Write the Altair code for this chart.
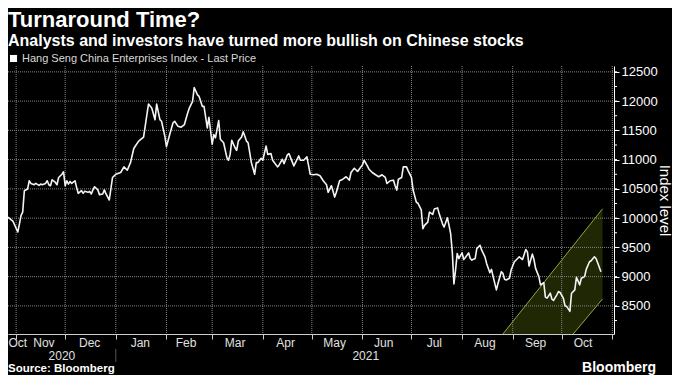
import altair as alt
import pandas as pd

# ---------------- data ----------------
dates = [
    "2020-10-27", "2020-10-29", "2020-10-30", "2020-11-02", "2020-11-03", "2020-11-04", "2020-11-05",
    "2020-11-06", "2020-11-08", "2020-11-09", "2020-11-10", "2020-11-12", "2020-11-13", "2020-11-15",
    "2020-11-16", "2020-11-17", "2020-11-19", "2020-11-20", "2020-11-21", "2020-11-22", "2020-11-23",
    "2020-11-25", "2020-11-26", "2020-11-27", "2020-11-29", "2020-11-30", "2020-12-01", "2020-12-02",
    "2020-12-03", "2020-12-04", "2020-12-05", "2020-12-07", "2020-12-08", "2020-12-09", "2020-12-11",
    "2020-12-12", "2020-12-13", "2020-12-15", "2020-12-16", "2020-12-17", "2020-12-18", "2020-12-19",
    "2020-12-21", "2020-12-22", "2020-12-24", "2020-12-25", "2020-12-26", "2020-12-28", "2020-12-30",
    "2021-01-01", "2021-01-04", "2021-01-06", "2021-01-08", "2021-01-10", "2021-01-12", "2021-01-13",
    "2021-01-15", "2021-01-18", "2021-01-19", "2021-01-21", "2021-01-23", "2021-01-25", "2021-01-26",
    "2021-01-28", "2021-01-29", "2021-01-31", "2021-02-01", "2021-02-03", "2021-02-05", "2021-02-06",
    "2021-02-08", "2021-02-10", "2021-02-12", "2021-02-14", "2021-02-15", "2021-02-17", "2021-02-18",
    "2021-02-20", "2021-02-21", "2021-02-23", "2021-02-24", "2021-02-26", "2021-02-27", "2021-03-01",
    "2021-03-02", "2021-03-03", "2021-03-05", "2021-03-06", "2021-03-08", "2021-03-10", "2021-03-11",
    "2021-03-12", "2021-03-13", "2021-03-15", "2021-03-16", "2021-03-17", "2021-03-19", "2021-03-20",
    "2021-03-22", "2021-03-23", "2021-03-25", "2021-03-27", "2021-03-28", "2021-03-29", "2021-03-31",
    "2021-04-01", "2021-04-03", "2021-04-04", "2021-04-06", "2021-04-07", "2021-04-10", "2021-04-11",
    "2021-04-13", "2021-04-14", "2021-04-16", "2021-04-17", "2021-04-20", "2021-04-21", "2021-04-23",
    "2021-04-24", "2021-04-26", "2021-04-28", "2021-04-30", "2021-05-02", "2021-05-04", "2021-05-06",
    "2021-05-08", "2021-05-10", "2021-05-11", "2021-05-13", "2021-05-15", "2021-05-16", "2021-05-18",
    "2021-05-20", "2021-05-22", "2021-05-24", "2021-05-25", "2021-05-27", "2021-05-29", "2021-05-30",
    "2021-06-01", "2021-06-02", "2021-06-04", "2021-06-05", "2021-06-07", "2021-06-09", "2021-06-11",
    "2021-06-13", "2021-06-15", "2021-06-16", "2021-06-18", "2021-06-20", "2021-06-21", "2021-06-22",
    "2021-06-23", "2021-06-25", "2021-06-26", "2021-06-28", "2021-06-29", "2021-07-01", "2021-07-02",
    "2021-07-04", "2021-07-05", "2021-07-07", "2021-07-08", "2021-07-09", "2021-07-11", "2021-07-12",
    "2021-07-14", "2021-07-15", "2021-07-17", "2021-07-18", "2021-07-20", "2021-07-21", "2021-07-23",
    "2021-07-24", "2021-07-25", "2021-07-26", "2021-07-27", "2021-07-28", "2021-07-29", "2021-07-30",
    "2021-08-01", "2021-08-02", "2021-08-03", "2021-08-05", "2021-08-06", "2021-08-07", "2021-08-09",
    "2021-08-10", "2021-08-12", "2021-08-13", "2021-08-15", "2021-08-16", "2021-08-18", "2021-08-19",
    "2021-08-20", "2021-08-22", "2021-08-23", "2021-08-25", "2021-08-26", "2021-08-27", "2021-08-28",
    "2021-08-30", "2021-08-31", "2021-09-02", "2021-09-04", "2021-09-05", "2021-09-07", "2021-09-09",
    "2021-09-10", "2021-09-11", "2021-09-13", "2021-09-14", "2021-09-15", "2021-09-17", "2021-09-18",
    "2021-09-20", "2021-09-21", "2021-09-22", "2021-09-24", "2021-09-25", "2021-09-26", "2021-09-28",
    "2021-09-29", "2021-09-30", "2021-10-02", "2021-10-03", "2021-10-04", "2021-10-06", "2021-10-07",
    "2021-10-09", "2021-10-10", "2021-10-12", "2021-10-13", "2021-10-15", "2021-10-16", "2021-10-18",
    "2021-10-19", "2021-10-21", "2021-10-22", "2021-10-23", "2021-10-25",
]
values = [
    10017, 9971, 9949, 9763, 9903, 10046, 10102,
    10469, 10497, 10639, 10593, 10571, 10593, 10559,
    10582, 10571, 10593, 10639, 10571, 10554, 10656,
    10610, 10571, 10695, 10751, 10792, 10554, 10639,
    10582, 10627, 10593, 10639, 10525, 10424, 10469,
    10424, 10458, 10441, 10458, 10413, 10483, 10537,
    10483, 10402, 10413, 10483, 10413, 10310, 10695,
    10751, 10780, 10876, 10819, 10949, 11191, 11232,
    11317, 11386, 11572, 11949, 11881, 11683, 11949,
    11683, 11656, 11402, 11220, 11429, 11627, 11656,
    11572, 11554, 11600, 11797, 11881, 11995, 12232,
    12107, 12080, 11910, 11910, 11542, 11724, 11263,
    11429, 11373, 11669, 11348, 11288, 11034, 10989,
    11090, 11330, 11203, 11158, 11317, 11386, 11475,
    11317, 11288, 10949, 10751, 10949, 10949, 11022,
    10989, 11232, 11090, 11102, 10989, 10876, 10910,
    11006, 10932, 11080, 11102, 10893, 10949, 11063,
    10989, 10989, 11046, 10751, 10741, 10751, 10724,
    10639, 10571, 10441, 10554, 10360, 10441, 10639,
    10666, 10707, 10649, 10780, 10853, 10797, 10836,
    10910, 10989, 10893, 10836, 10780, 10741, 10707,
    10741, 10695, 10593, 10639, 10649, 10554, 10480,
    10666, 10695, 10876, 10876, 10808, 10695, 10480,
    10271, 10254, 10141, 9819, 9876, 9932, 10102,
    10063, 10158, 10175, 10073, 9903, 9847, 10005,
    9876, 9734, 9424, 8876, 9113, 9395, 9310,
    9407, 9293, 9327, 9407, 9310, 9283, 9310,
    9480, 9537, 9452, 9339, 9226, 9068, 9124,
    9000, 8774, 8887, 9085, 9056, 8955, 8944,
    8972, 9113, 9254, 9310, 9339, 9293, 9463,
    9424, 9181, 9385, 9293, 9141, 9000, 8859,
    8898, 8650, 8633, 8717, 8615, 8593, 8689,
    8746, 8729, 8633, 8503, 8492, 8407, 8717,
    8774, 8989, 8859, 8972, 9000, 9124, 9254,
    9271, 9339, 9310, 9237, 9085,
]

SERIES = "Hang Seng China Enterprises Index - Last Price"
TITLE = "Turnaround Time?"
SUBTITLE = "Analysts and investors have turned more bullish on Chinese stocks"
SOURCE = "Source: Bloomberg"
BRAND = "Bloomberg"
Y_TITLE = "Index level"

month_starts = ["2020-11-01", "2020-12-01", "2021-01-01", "2021-02-01", "2021-03-01", "2021-04-01",
                "2021-05-01", "2021-06-01", "2021-07-01", "2021-08-01", "2021-09-01", "2021-10-01",
                "2021-11-01"]
month_label_dates = ["2020-11-02", "2020-11-18", "2020-12-16", "2021-01-16", "2021-02-13", "2021-03-15",
                     "2021-04-15", "2021-05-15", "2021-06-14", "2021-07-15", "2021-08-15", "2021-09-15",
                     "2021-10-14"]
month_labels = ["Oct", "Nov", "Dec", "Jan", "Feb", "Mar", "Apr", "May", "Jun", "Jul", "Aug", "Sep", "Oct"]
year_label_dates = ["2020-11-29", "2021-06-03"]
year_labels = ["2020", "2021"]
year_break = ["2021-01-01"]
y_ticks = [8250, 8500, 8750, 9000, 9250, 9500, 9750, 10000, 10250, 10500, 10750, 11000, 11250,
           11500, 11750, 12000, 12250, 12500]
y_major = [8500, 9000, 9500, 10000, 10500, 11000, 11500, 12000, 12500]

# rising channel drawn on the chart
band_dates = ["2021-08-26", "2021-10-08", "2021-10-26"]
band_upper = [8020, 9528, 10160]
band_lower = [8020, 8020, 8620]
upper_edge_dates = ["2021-08-26", "2021-10-26"]
upper_edge_vals = [8020, 10160]
lower_edge_dates = ["2021-10-08", "2021-10-26"]
lower_edge_vals = [8020, 8620]

x_domain_dates = ["2020-10-27", "2021-11-02"]
y_domain = [8020, 12600]

# ---------------- chart ----------------
W, H = 606, 268
SANS = "Liberation Sans, Arial, sans-serif"
GRID = "#858585"


def dt(s):
    y, m, d = (int(p) for p in s.split("-"))
    return alt.DateTime(year=y, month=m, date=d, utc=True)


xscale = alt.Scale(domain=[dt(s) for s in x_domain_dates])
yscale = alt.Scale(domain=y_domain, nice=False, zero=False)

x_axis = alt.Axis(
    values=[dt(s) for s in month_starts], labels=False, ticks=True, tickSize=5,
    tickColor="#cccccc", domain=True, domainColor="#cccccc", grid=False, title=None,
)
y_axis = alt.Axis(
    orient="right", values=y_major, grid=False, format="d",
    tickSize=5, domainColor="#ffffff", tickColor="#ffffff",
    labelColor="#ffffff", labelFont=SANS, labelFontSize=13, labelPadding=2,
    title=Y_TITLE, titleColor="#ffffff", titleFont=SANS, titleFontSize=15,
    titleFontWeight="normal", titleAngle=90, titleX=50, titleBaseline="middle",
)


def X(field):
    return alt.X(field, scale=xscale, axis=x_axis)


def Y(field):
    return alt.Y(field, scale=yscale, axis=y_axis)


line_df = pd.DataFrame({"date": dates, "value": values, "series": SERIES})
band_df = pd.DataFrame({"date": band_dates, "value": band_upper, "lo": band_lower})
up_df = pd.DataFrame({"date": upper_edge_dates, "value": upper_edge_vals})
lo_df = pd.DataFrame({"date": lower_edge_dates, "value": lower_edge_vals})
mlab_df = pd.DataFrame({"date": month_label_dates, "label": month_labels})
ylab_df = pd.DataFrame({"date": year_label_dates, "label": year_labels})
ybrk_df = pd.DataFrame({"date": year_break})
minor_df = pd.DataFrame({"value": y_ticks})
vgrid_df = pd.DataFrame({"date": month_starts})
hgrid_df = pd.DataFrame({"value": y_major})

band = alt.Chart(band_df).mark_area(color="#1f2705", opacity=1).encode(
    x=X("date:T"), y=Y("value:Q"), y2="lo:Q",
)
# dotted grid lines as rules
vgrid = alt.Chart(vgrid_df).mark_rule(
    stroke=GRID, strokeWidth=1, strokeDash=[1, 1], strokeOpacity=1
).encode(x=X("date:T"), y=alt.value(0), y2=alt.value(H))
hgrid = alt.Chart(hgrid_df).mark_rule(
    stroke=GRID, strokeWidth=1, strokeDash=[1, 1], strokeOpacity=1
).encode(y=Y("value:Q"), x=alt.value(0), x2=alt.value(W))
# minor ticks on the right-hand axis
minor = alt.Chart(minor_df).mark_rule(stroke="#ffffff", strokeWidth=1).encode(
    y=Y("value:Q"), x=alt.value(W), x2=alt.value(W + 3),
)
up_edge = alt.Chart(up_df).mark_line(color="#8fa83e", strokeWidth=1).encode(
    x=X("date:T"), y=Y("value:Q"),
)
lo_edge = alt.Chart(lo_df).mark_line(color="#8fa83e", strokeWidth=1).encode(
    x=X("date:T"), y=Y("value:Q"),
)
line = alt.Chart(line_df).mark_line(strokeWidth=1.6, strokeJoin="round").encode(
    x=X("date:T"),
    y=Y("value:Q"),
    color=alt.Color(
        "series:N",
        scale=alt.Scale(range=["#f4f4f4"]),
        legend=alt.Legend(
            orient="none", legendX=0, legendY=-13, title=None, symbolType="square",
            symbolSize=50, symbolFillColor="#ffffff", symbolStrokeWidth=0,
            labelColor="#d8d8d8", labelFont=SANS, labelFontSize=11, labelOffset=3,
            labelLimit=0, padding=0,
        ),
    ),
)
mlabels = alt.Chart(mlab_df).mark_text(
    color="#e0e0e0", font=SANS, fontSize=12, baseline="alphabetic", align="center"
).encode(x=X("date:T"), y=alt.value(H + 13), text="label:N")
ylabels = alt.Chart(ylab_df).mark_text(
    color="#e0e0e0", font=SANS, fontSize=12, baseline="alphabetic", align="center"
).encode(x=X("date:T"), y=alt.value(H + 26), text="label:N")
ybreak = alt.Chart(ybrk_df).mark_rule(stroke="#555555", strokeWidth=1).encode(
    x=X("date:T"), y=alt.value(H + 15), y2=alt.value(H + 28),
)


def label(text, y, size, weight="bold", x=0, align="left", color="#ffffff"):
    return alt.Chart(pd.DataFrame({"t": [text]})).mark_text(
        color=color, font=SANS, fontSize=size, fontWeight=weight, align=align,
        baseline="alphabetic",
    ).encode(x=alt.value(x), y=alt.value(y), text="t:N")


title = label(TITLE, -39, 22)
subtitle = label(SUBTITLE, -20, 16)
source = label(SOURCE, H + 38, 11.5)
brand = label(BRAND, H + 38, 14, x=W + 42, align="right")

chart = alt.layer(
    band, vgrid, hgrid, minor, up_edge, lo_edge, line, mlabels, ylabels, ybreak,
    title, subtitle, source, brand
).properties(
    width=W, height=H,
    autosize=alt.AutoSizeParams(type="none"),
    padding={"left": 0, "top": 58, "right": 58, "bottom": 41},
    background="#000000",
).configure_view(stroke=None)

chart.save("out.html", embed_options={"renderer": "svg", "actions": False})
